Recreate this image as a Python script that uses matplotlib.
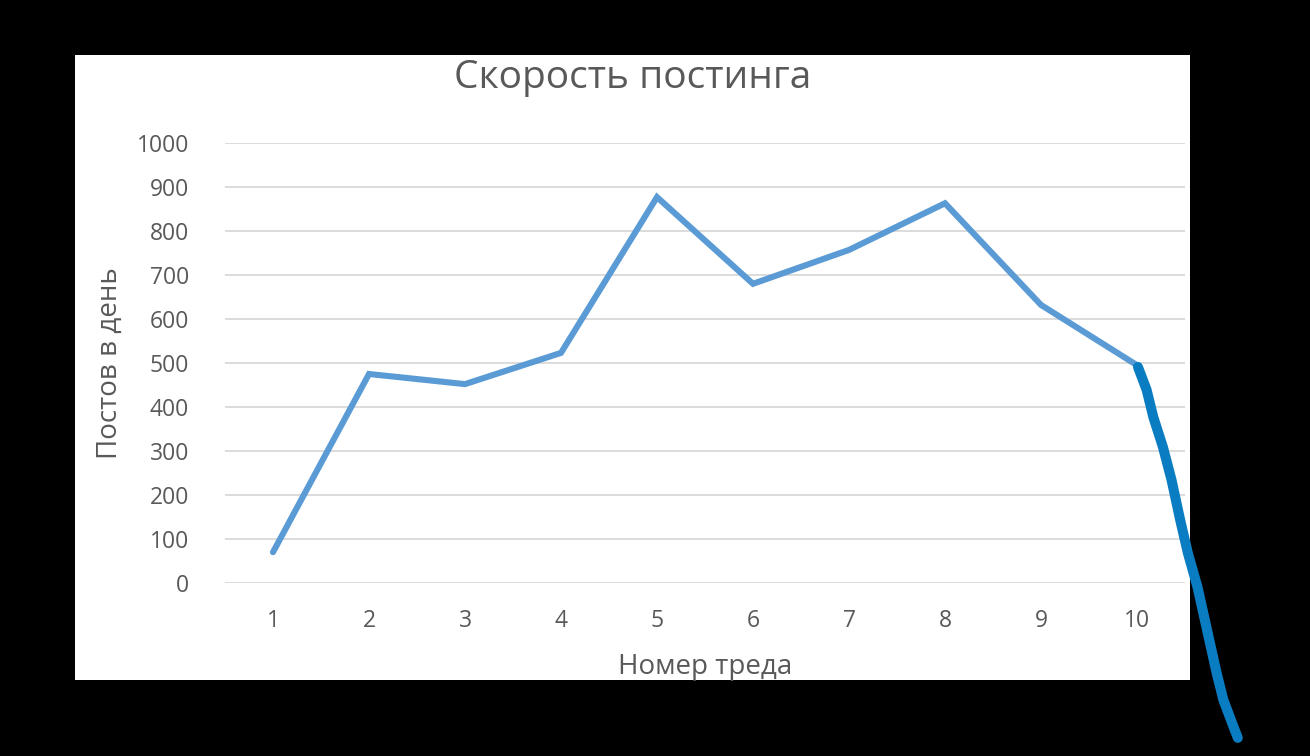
import matplotlib
matplotlib.use("Agg")
import matplotlib.pyplot as plt
from matplotlib.patches import Rectangle

plt.rcParams['font.family'] = ['Open Sans', 'DejaVu Sans']

# thread number -> posts per day
threads = [1, 2, 3, 4, 5, 6, 7, 8, 9, 10]
posts = [70, 475, 452, 523, 877, 680, 757, 863, 632, 495]

# hand-drawn "forecast" stroke from thread 10 downwards
drop_x = [10.01, 10.10, 10.17, 10.27, 10.36, 10.45, 10.53, 10.63, 10.73, 10.83, 10.90, 10.99, 11.05]
drop_y = [491, 439, 377, 309, 234, 143, 68, -9, -107, -205, -266, -318, -352]

yticks = [0, 100, 200, 300, 400, 500, 600, 700, 800, 900, 1000]
grey = '#595959'

fig = plt.figure(figsize=(13.1, 7.56), dpi=100, facecolor='black')
# white chart area on black screenshot background
fig.patches.append(Rectangle((75 / 1310, 1 - 680 / 756), 1115 / 1310, 625 / 756,
                             transform=fig.transFigure, facecolor='white',
                             edgecolor='none', zorder=-10))

ax = fig.add_axes([225 / 1310, 1 - 583 / 756, 960 / 1310, 440 / 756])
ax.set_facecolor('none')
ax.plot(threads, posts, color='#5B9BD5', lw=4.4, solid_capstyle='round',
        solid_joinstyle='miter', zorder=3)
ax.plot(drop_x, drop_y, color='#0A7DC2', lw=7.2, solid_capstyle='round',
        solid_joinstyle='round', clip_on=False, zorder=4)

ax.set_xlim(0.5, 10.5)
ax.set_ylim(0, 1000)
ax.set_xticks(threads)
ax.set_yticks(yticks)
ax.tick_params(length=0, labelsize=16.5, colors=grey)
ax.tick_params(axis='x', pad=19)
ax.tick_params(axis='y', pad=26)
ax.grid(axis='y', color='#D9D9D9', lw=1.3)
ax.set_axisbelow(True)
for s in ax.spines.values():
    s.set_visible(False)

ax.set_xlabel('Номер треда', fontsize=20, color=grey, labelpad=14)
ax.set_ylabel('Постов в день', fontsize=20, color=grey, labelpad=9)
fig.text(633 / 1310, 1 - 78 / 756, 'Скорость постинга', fontsize=28, color=grey,
         ha='center', va='center')

fig.savefig('out.png', dpi=100, facecolor='black')
